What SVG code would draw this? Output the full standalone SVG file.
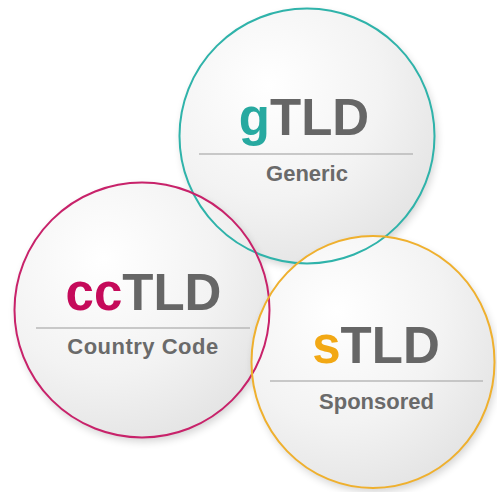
<svg xmlns="http://www.w3.org/2000/svg" width="497" height="492" viewBox="0 0 497 492">
<defs>
<radialGradient id="fillg" cx="0.35" cy="0.3" r="0.8">
<stop offset="0" stop-color="#ffffff"/>
<stop offset="0.55" stop-color="#f3f3f3"/>
<stop offset="1" stop-color="#e2e2e2"/>
</radialGradient>
<filter id="sh" x="-20%" y="-20%" width="140%" height="140%">
<feGaussianBlur in="SourceAlpha" stdDeviation="4"/>
<feOffset dx="2" dy="4"/>
<feComponentTransfer><feFuncA type="linear" slope="0.18"/></feComponentTransfer>
<feMerge><feMergeNode/><feMergeNode in="SourceGraphic"/></feMerge>
</filter>
</defs>
<style>
.disk{fill:url(#fillg);filter:url(#sh)}
.ring{fill:none;stroke-width:2}
.big{font-family:"Liberation Sans",Arial,sans-serif;font-weight:bold;font-size:51px;fill:#666666;text-anchor:middle}
.sub{font-family:"Liberation Sans",Arial,sans-serif;font-weight:bold;font-size:22px;fill:#6a6a6a;text-anchor:middle}
.rule{stroke:#b9b9b9;stroke-width:1.5}
</style>
<rect width="497" height="492" fill="#ffffff"/>
<g id="fills">
<circle class="disk" cx="307" cy="136" r="127.5"/>
<circle class="disk" cx="142" cy="310" r="127.5"/>
<ellipse class="disk" cx="373" cy="362" rx="121.5" ry="126"/>
</g>
<g id="gTLD">
<circle class="ring" cx="307" cy="136" r="127.5" stroke="#2fb3aa"/>
<text class="big" x="304" y="135"><tspan fill="#27a9a0">g</tspan>TLD</text>
<line class="rule" x1="199" y1="154" x2="413" y2="154"/>
<text class="sub" x="307" y="181">Generic</text>
</g>
<g id="ccTLD">
<circle class="ring" cx="142" cy="310" r="127.5" stroke="#c8226a"/>
<text class="big" x="143.5" y="310"><tspan fill="#c50a5a">cc</tspan>TLD</text>
<line class="rule" x1="36" y1="328" x2="250" y2="328"/>
<text class="sub" x="143" y="354" letter-spacing="0.5">Country Code</text>
</g>
<g id="sTLD">
<ellipse class="ring" cx="373" cy="362" rx="121.5" ry="126" stroke="#efb02e"/>
<text class="big" x="376" y="363"><tspan fill="#f2a814">s</tspan>TLD</text>
<line class="rule" x1="270" y1="381" x2="483" y2="381"/>
<text class="sub" x="376.5" y="409">Sponsored</text>
</g>
</svg>
